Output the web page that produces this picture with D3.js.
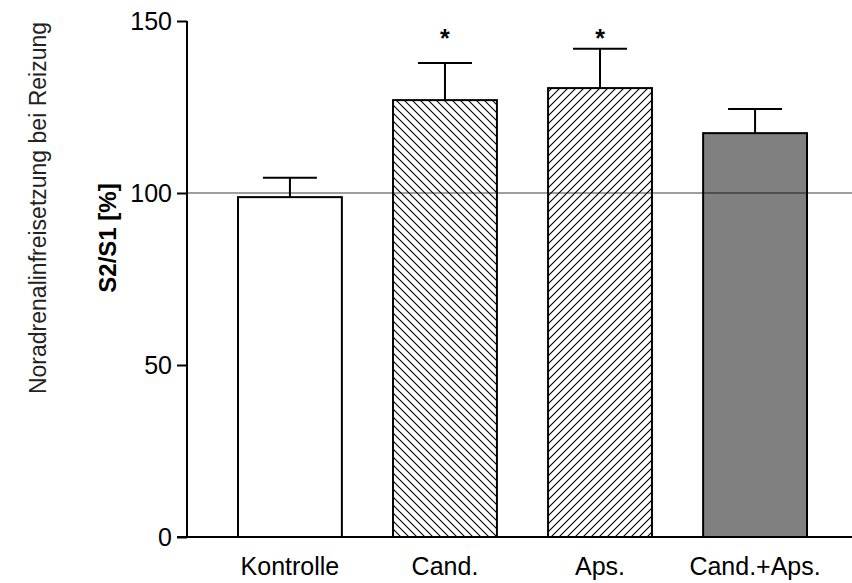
<!DOCTYPE html>
<html>
<head>
<meta charset="utf-8">
<script src="https://cdn.jsdelivr.net/npm/d3@7"></script>
<style>
  body { margin: 0; background: #fff; }
  text { font-family: "Liberation Sans", Arial, sans-serif; }
</style>
</head>
<body>
<script>
var categories = ["Kontrolle", "Cand.", "Aps.", "Cand.+Aps."];
var means = [98.8, 127.0, 130.5, 117.4];
var errors = [5.6, 10.8, 11.4, 7.0];
var fills = ["white", "url(#hatchBack)", "url(#hatchFwd)", "#808080"];
var significant = [false, true, true, false];
var yTicks = [0, 50, 100, 150];
var referenceValue = 100;
var starValue = 145;

var width = 852, height = 583;
var margin = {top: 21, right: 0, bottom: 46, left: 187};

var svg = d3.select("body").append("svg")
    .attr("width", width)
    .attr("height", height);

var defs = svg.append("defs");
defs.append("pattern")
    .attr("id", "hatchFwd")
    .attr("patternUnits", "userSpaceOnUse")
    .attr("width", 8).attr("height", 8)
    .append("path")
    .attr("d", "M-2,2 l4,-4 M0,8 l8,-8 M6,10 l4,-4")
    .attr("stroke", "black").attr("stroke-width", 1.1);
defs.append("pattern")
    .attr("id", "hatchBack")
    .attr("patternUnits", "userSpaceOnUse")
    .attr("width", 8).attr("height", 8)
    .append("path")
    .attr("d", "M-2,6 l4,4 M0,0 l8,8 M6,-2 l4,4")
    .attr("stroke", "black").attr("stroke-width", 1.1);

var x = d3.scaleBand()
    .domain(categories)
    .range([238, 807])
    .paddingInner(0.33)
    .paddingOuter(0);

var y = d3.scaleLinear()
    .domain([0, 150])
    .range([height - margin.bottom, margin.top]);

// bars
svg.selectAll(".bar")
    .data(categories)
    .enter().append("rect")
    .attr("class", "bar")
    .attr("x", function(d) { return x(d); })
    .attr("y", function(d, i) { return y(means[i]); })
    .attr("width", x.bandwidth())
    .attr("height", function(d, i) { return y(0) - y(means[i]); })
    .attr("fill", function(d, i) { return fills[i]; })
    .attr("stroke", "black")
    .attr("stroke-width", 2);

// error bars (upper only)
var capHalf = 27;
svg.selectAll(".err")
    .data(categories)
    .enter().append("path")
    .attr("class", "err")
    .attr("d", function(d, i) {
        var cx = x(d) + x.bandwidth() / 2;
        return "M" + cx + "," + y(means[i]) + "V" + y(means[i] + errors[i]) +
            "M" + (cx - capHalf) + "," + y(means[i] + errors[i]) + "H" + (cx + capHalf);
    })
    .attr("fill", "none")
    .attr("stroke", "black")
    .attr("stroke-width", 2);

// stars
svg.selectAll(".star")
    .data(categories.filter(function(d, i) { return significant[i]; }))
    .enter().append("text")
    .attr("class", "star")
    .attr("x", function(d) { return x(d) + x.bandwidth() / 2; })
    .attr("y", y(starValue) + 9)
    .attr("text-anchor", "middle")
    .attr("font-size", 25)
    .attr("font-weight", "bold")
    .text("*");

// reference line at 100
svg.append("line")
    .attr("x1", margin.left).attr("x2", width)
    .attr("y1", y(referenceValue)).attr("y2", y(referenceValue))
    .attr("stroke", "black")
    .attr("stroke-opacity", 0.5)
    .attr("stroke-width", 1.5);

// y axis
var yAxis = svg.append("g")
    .attr("transform", "translate(" + margin.left + ",0)")
    .call(d3.axisLeft(y).tickValues(yTicks).tickSize(10).tickPadding(5));
yAxis.select(".domain").attr("d", "M0," + y(150) + "V" + y(0)).attr("stroke-width", 2);
yAxis.selectAll(".tick line").attr("stroke-width", 2);
yAxis.selectAll(".tick text")
    .attr("font-size", 25)
    .attr("font-family", "Liberation Sans, Arial, sans-serif")
    .attr("fill", "black");

// x baseline
svg.append("line")
    .attr("x1", margin.left - 10).attr("x2", width)
    .attr("y1", y(0)).attr("y2", y(0))
    .attr("stroke", "black")
    .attr("stroke-width", 2);

// category labels
svg.selectAll(".cat")
    .data(categories)
    .enter().append("text")
    .attr("class", "cat")
    .attr("x", function(d) { return x(d) + x.bandwidth() / 2; })
    .attr("y", 575)
    .attr("text-anchor", "middle")
    .attr("font-size", 25)
    .text(function(d) { return d; });

// axis titles
svg.append("text")
    .attr("transform", "translate(46,208) rotate(-90)")
    .attr("text-anchor", "middle")
    .attr("font-size", 23)
    .attr("fill", "#222")
    .text("Noradrenalinfreisetzung bei Reizung");
svg.append("text")
    .attr("transform", "translate(116,238) rotate(-90)")
    .attr("text-anchor", "middle")
    .attr("font-size", 24)
    .attr("font-weight", "bold")
    .text("S2/S1 [%]");
</script>
</body>
</html>
